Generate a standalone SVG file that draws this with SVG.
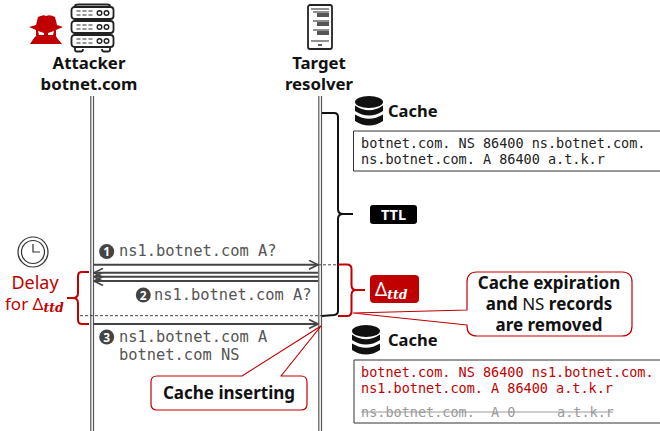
<svg xmlns="http://www.w3.org/2000/svg" width="660" height="431" viewBox="0 0 660 431">
<style>
text{font-family:"Noto Sans","DejaVu Sans",sans-serif}
.h{font-size:16.800px;font-weight:700;fill:#111;text-anchor:middle}
.m{font-family:"DejaVu Sans Mono","Liberation Mono",monospace;font-size:15.400px;fill:#555}
.c{font-family:"DejaVu Sans Mono","Liberation Mono",monospace;font-size:13.500px;fill:#222}
.r{fill:#c00000}
.life{fill:none;stroke:#555;stroke-width:1.200}
.arr{stroke:#444;stroke-width:2;fill:none}
.dash{stroke:#444;stroke-width:1;stroke-dasharray:3 2;fill:none}
.num{fill:#444}
.numt{font-size:12px;font-weight:700;fill:#fff;text-anchor:middle}
.call{fill:#fff;stroke:#c00000;stroke-width:1.200;stroke-linejoin:round}
.b{font-size:17px;font-weight:700;fill:#111;text-anchor:middle}
.ico{fill:none;stroke:#222;stroke-width:1.800}
.sub{font-family:"DejaVu Serif","Liberation Serif",serif;font-style:italic;font-weight:700;font-size:12.500px}
</style>
<defs>
<marker id="ah" markerWidth="11" markerHeight="10" refX="10" refY="5" orient="auto" markerUnits="userSpaceOnUse"><path d="M1 0.500L10 5L1 9.500" fill="none" stroke="#444" stroke-width="1.600"/></marker>
<g id="db"><ellipse cx="14" cy="6" rx="14" ry="6" fill="#111"/><path d="M0 9.500Q14 19 28 9.500V15Q14 24 0 15Z" fill="#111"/><path d="M0 18.500Q14 27 28 18.500V25Q14 34 0 25Z" fill="#111"/></g>
<g id="srv"><rect x="0" y="0" width="42" height="12" rx="3" fill="#fff" stroke="#222" stroke-width="1.800"/><path d="M5 4h4M11 4h4M17 4h4M5 8h4M11 8h4M17 8h4" stroke="#333" stroke-width="1.200"/><circle cx="28" cy="6" r="2.300" fill="none" stroke="#222" stroke-width="1.400"/><circle cx="35" cy="6" r="2.300" fill="none" stroke="#222" stroke-width="1.400"/></g>
</defs>
<g id="connectors">
<path class="life" d="M90.800 96V431M93.500 96V431M318.800 96V431M321.500 96V431"/>
<path class="arr" marker-end="url(#ah)" d="M93 264.800H318"/>
<path class="arr" marker-end="url(#ah)" d="M318 272.800H94"/>
<path class="arr" marker-end="url(#ah)" d="M318 276.800H94"/>
<path class="arr" marker-end="url(#ah)" d="M318 281H94"/>
<path class="arr" marker-end="url(#ah)" d="M93 324H318"/>
<path class="dash" d="M318 264.800H338"/>
<path class="dash" d="M80 315.700H323"/>
<path d="M322 113H334Q338 113 338 117V209Q338 214 343 214Q338 214 338 219V311Q338 314.500 334 315L322 316" fill="none" stroke="#111" stroke-width="2"/>
<path d="M342 214H353" fill="none" stroke="#111" stroke-width="2"/>
<path d="M338 264.500H347Q351.500 264.500 351.500 269V285Q351.500 290 356 290Q351.500 290 351.500 295V311Q351.500 316 347 316H338M355 290H365" fill="none" stroke="#c00000" stroke-width="2"/>
<path d="M89 272H82Q78 272 78 276V293Q78 298 73 298Q78 298 78 303V320Q78 324 82 324H89M67 298H74" fill="none" stroke="#c00000" stroke-width="2"/>
</g>
<g id="attacker">
<path class="r" d="M38 17Q44 14 46 16Q50 14 55 17L57 25L63 27L56 30V36L57 38L62 44H30L34 38L36 36V30L29 27L36 25Z"/>
<path d="M38 31L44 33V35H39ZM54 31L48 33V35H53Z" fill="#fff"/>
<use href="#srv" x="71.500" y="7"/>
<use href="#srv" x="71.500" y="21"/>
<use href="#srv" x="71.500" y="35"/>
<path d="M75 47.500V50Q75 51.500 77 51.500H81Q83 51.500 83 49M102 49Q102 51.500 104 51.500H108Q110 51.500 110 50V47.500" class="ico"/>
<path d="M75 7V6Q75 4.500 78 4.500H107Q110 4.500 110 6V7" class="ico"/>
<text class="h" x="89" y="69">Attacker</text>
<text class="h" x="89" y="90">botnet.com</text>
</g>
<g id="resolver">
<rect x="308" y="5" width="24" height="44" rx="2" class="ico"/>
<path d="M311 9H329M311 41H329" stroke="#222" stroke-width="1"/>
<path d="M313 12H329M313 21H329M313 30H329" stroke="#222" stroke-width="1.200"/>
<path d="M317 13h12v4h-12zM317 22h12v4h-12zM317 31h12v4h-12z" fill="#555"/>
<path d="M318 45h4" stroke="#222" stroke-width="1.500"/>
<text class="h" x="319" y="69">Target</text>
<text class="h" x="319" y="90">resolver</text>
</g>
<g id="cache-top">
<use href="#db" x="355" y="96"/>
<text x="388" y="117" font-size="16.500" font-weight="700" fill="#111">Cache</text>
<path d="M660 131H353.500V171H660" fill="#fff" stroke="#333" stroke-width="1"/>
<text class="c" x="361" y="148">botnet.com. NS 86400 ns.botnet.com.</text>
<text class="c" x="361" y="164">ns.botnet.com. A 86400 a.t.k.r</text>
</g>
<g id="ttl">
<rect x="370" y="205" width="47" height="19" rx="3" fill="#000"/>
<text x="393.500" y="220" text-anchor="middle" font-size="14.500" font-weight="700" fill="#fff">TTL</text>
</g>
<g id="delta">
<rect x="370" y="275" width="49" height="28" rx="4" fill="#c00000"/>
<text x="375" y="296" font-size="19" fill="#fff">Δ<tspan class="sub" dy="3">ttd</tspan></text>
</g>
<g id="clock">
<circle cx="33" cy="252" r="15" fill="none" stroke="#333" stroke-width="1.200"/>
<circle cx="33" cy="252" r="11.500" fill="none" stroke="#333" stroke-width="1.200"/>
<path d="M33 244V252H40" fill="none" stroke="#333" stroke-width="1.200"/>
</g>
<g id="delay">
<text x="35" y="289" text-anchor="middle" font-size="18" class="r">Delay</text>
<text x="5" y="310" font-size="17" class="r">for Δ<tspan class="sub" dy="2">ttd</tspan></text>
</g>
<g id="msg1">
<circle class="num" cx="106.700" cy="251.500" r="7.500"/><text class="numt" x="106.700" y="256">1</text>
<text class="m" x="119" y="256">ns1.botnet.com A?</text>
</g>
<g id="msg2">
<circle class="num" cx="143.300" cy="295" r="7.500"/><text class="numt" x="143.300" y="299.500">2</text>
<text class="m" x="154" y="300">ns1.botnet.com A?</text>
</g>
<g id="msg3">
<circle class="num" cx="106.700" cy="337" r="7.500"/><text class="numt" x="106.700" y="341.500">3</text>
<text class="m" x="119" y="342">ns1.botnet.com A</text>
<text class="m" x="119" y="360">botnet.com NS</text>
</g>
<g id="callout-insert">
<path class="call" d="M157 376H242L321 326L281 376H301Q307 376 307 382V404Q307 410 301 410H157Q151 410 151 404V382Q151 376 157 376Z"/>
<text class="b" x="229" y="399">Cache inserting</text>
</g>
<g id="callout-expire">
<path class="call" d="M477 272H622Q632 272 632 282V326Q632 336 622 336H477Q467 336 467 326L467 325L353 313L467 310V282Q467 272 477 272Z"/>
<text class="b" x="549" y="289">Cache expiration</text>
<text class="b" x="549" y="310">and <tspan font-weight="400">NS</tspan> records</text>
<text class="b" x="549" y="331">are removed</text>
</g>
<g id="cache-bottom">
<use href="#db" x="352" y="325"/>
<text x="388" y="346" font-size="16.500" font-weight="700" fill="#111">Cache</text>
<path d="M660 360H354V423H660" fill="#fff" stroke="#333" stroke-width="1"/>
<text class="c r" x="361" y="377">botnet.com. NS 86400 ns1.botnet.com.</text>
<text class="c r" x="361" y="393">ns1.botnet.com. A 86400 a.t.k.r</text>
<text class="c" x="361" y="417" style="fill:#999">ns.botnet.com.<tspan x="491">A 0</tspan><tspan x="557">a.t.k.r</tspan></text>
<path d="M361 412H613" stroke="#999" stroke-width="1"/>
</g>
</svg>
